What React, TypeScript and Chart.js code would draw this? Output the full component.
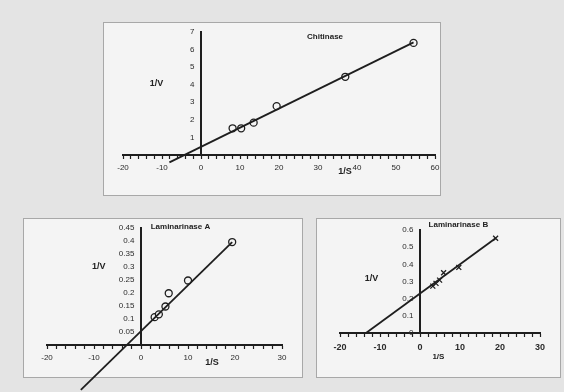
import React, { useEffect, useRef } from 'react';
import { Chart, registerables } from 'chart.js';
Chart.register(...registerables);

// ---- Chitinase ----
const chitS = [8.1, 10.3, 13.5, 19.4, 37, 54.5];
const chitV = [1.52, 1.52, 1.84, 2.78, 4.45, 6.38];
const chitFitS = [-8.1, 54.5];
const chitFitV = [-0.42, 6.41];
const chitXTicks = [-20, -10, 0, 10, 20, 30, 40, 50, 60];
const chitYTicks = [1, 2, 3, 4, 5, 6, 7];

// ---- Laminarinase A ----
const lamAS = [2.9, 3.8, 5.2, 5.9, 10, 19.4];
const lamAV = [0.107, 0.118, 0.148, 0.199, 0.248, 0.396];
const lamAFitS = [-12.8, 19.4];
const lamAFitV = [-0.173, 0.396];
const lamAXTicks = [-20, -10, 0, 10, 20, 30];
const lamAYTicks = [0.05, 0.1, 0.15, 0.2, 0.25, 0.3, 0.35, 0.4, 0.45];

// ---- Laminarinase B ----
const lamBS = [3.2, 4.0, 4.9, 5.9, 9.7, 18.9];
const lamBV = [0.273, 0.289, 0.308, 0.351, 0.382, 0.552];
const lamBFitS = [-13.5, 18.9];
const lamBFitV = [0, 0.552];
const lamBXTicks = [-20, -10, 0, 10, 20, 30];
const lamBYTicks = [0, 0.1, 0.2, 0.3, 0.4, 0.5, 0.6];

const FONT = "'Liberation Sans', Arial, sans-serif";
const INK = '#1e1e1e';

const textPlugin = {
  id: 'annot',
  afterDraw(chart: any, _a: any, opts: any) {
    const { ctx, scales } = chart;
    (opts.items || []).forEach((it: any) => {
      ctx.save();
      ctx.font = it.font;
      ctx.fillStyle = it.color || '#222';
      ctx.textAlign = 'center';
      ctx.textBaseline = 'middle';
      ctx.fillText(it.text, scales.x.getPixelForValue(it.x), scales.y.getPixelForValue(it.y));
      ctx.restore();
    });
  },
};

const has = (arr: number[], v: number) => arr.some((a) => Math.abs(a - v) < 1e-6);
const fmt = (v: number) => String(Number(v.toFixed(3)));

function makeConfig(p: any) {
  return {
    type: 'scatter',
    data: {
      datasets: [
        {
          data: p.fitS.map((s: number, i: number) => ({ x: s, y: p.fitV[i] })),
          showLine: true,
          borderColor: INK,
          borderWidth: 1.8,
          pointRadius: 0,
          clip: false,
        },
        {
          data: p.s.map((s: number, i: number) => ({ x: s, y: p.v[i] })),
          showLine: false,
          pointStyle: p.pointStyle,
          pointRadius: p.pointRadius,
          pointBorderWidth: 1.3,
          pointBorderColor: INK,
          pointBackgroundColor: p.pointStyle === 'circle' ? '#f4f4f4' : INK,
          clip: false,
        },
      ],
    },
    options: {
      responsive: false,
      devicePixelRatio: 1,
      animation: false,
      layout: { padding: p.padding },
      plugins: {
        legend: { display: false },
        tooltip: { enabled: false },
        annot: { items: p.texts },
      },
      scales: {
        x: {
          type: 'linear',
          position: { y: 0 },
          min: p.xMin,
          max: p.xMax,
          afterFit: (s: any) => { s.height = 0; },
          ticks: {
            stepSize: 2,
            autoSkip: false,
            maxRotation: 0,
            padding: p.xPad,
            color: '#2a2a2a',
            font: { family: FONT, size: p.xTickSize, weight: p.xTickWeight },
            callback: (v: any) => (has(p.xTicks, Number(v)) ? fmt(Number(v)) : ''),
          },
          grid: { display: true, drawOnChartArea: false, drawTicks: true, tickLength: 3, color: INK, tickWidth: 1.2 },
          border: { display: true, color: INK, width: 2 },
        },
        y: {
          type: 'linear',
          position: { x: 0 },
          min: p.yMin,
          max: p.yMax,
          afterFit: (s: any) => { s.width = 0; },
          ticks: {
            stepSize: p.yStep,
            autoSkip: false,
            color: '#2a2a2a',
            font: { family: FONT, size: 8 },
            // trailing spaces keep the labels clear of the axis line
            callback: (v: any) => (has(p.yTicks, Number(v)) ? fmt(Number(v)) + '   ' : ''),
          },
          grid: { display: false },
          border: { display: true, color: INK, width: 2 },
        },
      },
    },
    plugins: [textPlugin],
  } as any;
}

const configs = [
  makeConfig({
    s: chitS, v: chitV, fitS: chitFitS, fitV: chitFitV,
    pointStyle: 'circle', pointRadius: 3.5,
    xMin: -20, xMax: 60, xTicks: chitXTicks,
    yMin: 0, yMax: 7, yStep: 1, yTicks: chitYTicks,
    xTickSize: 8, xTickWeight: 'normal', xPad: 5,
    padding: { left: 123, right: 129, top: 32, bottom: 237 },
    texts: [
      { text: 'Chitinase', x: 31.8, y: 6.72, font: `bold 8px ${FONT}` },
      { text: '1/V', x: -11.4, y: 4.07, font: `bold 9px ${FONT}` },
      { text: '1/S', x: 36.9, y: -0.95, font: `bold 9px ${FONT}` },
    ],
  }),
  makeConfig({
    s: lamAS, v: lamAV, fitS: lamAFitS, fitV: lamAFitV,
    pointStyle: 'circle', pointRadius: 3.5,
    xMin: -20, xMax: 30, xTicks: lamAXTicks,
    yMin: 0, yMax: 0.45, yStep: 0.05, yTicks: lamAYTicks,
    xTickSize: 8, xTickWeight: 'normal', xPad: 5,
    padding: { left: 47, right: 282, top: 228, bottom: 47 },
    texts: [
      { text: 'Laminarinase A', x: 8.4, y: 0.456, font: `bold 8px ${FONT}` },
      { text: '1/V', x: -9.0, y: 0.302, font: `bold 9px ${FONT}` },
      { text: '1/S', x: 15.1, y: -0.068, font: `bold 9px ${FONT}` },
    ],
  }),
  makeConfig({
    s: lamBS, v: lamBV, fitS: lamBFitS, fitV: lamBFitV,
    pointStyle: 'crossRot', pointRadius: 3.5,
    xMin: -20, xMax: 30, xTicks: lamBXTicks,
    yMin: 0, yMax: 0.6, yStep: 0.1, yTicks: lamBYTicks,
    xTickSize: 9, xTickWeight: 'bold', xPad: 6,
    padding: { left: 340, right: 24, top: 230, bottom: 59 },
    texts: [
      { text: 'Laminarinase B', x: 9.6, y: 0.63, font: `bold 8px ${FONT}` },
      { text: '1/V', x: -12.1, y: 0.318, font: `bold 9px ${FONT}` },
      { text: '1/S', x: 4.6, y: -0.14, font: `bold 8px ${FONT}` },
    ],
  }),
];

function Plot({ config }: { config: any }) {
  const ref = useRef<HTMLCanvasElement | null>(null);
  useEffect(() => {
    const c = new Chart(ref.current as HTMLCanvasElement, config);
    return () => c.destroy();
  }, [config]);
  return <canvas ref={ref} width={564} height={392} style={{ position: 'absolute', left: 0, top: 0 }} />;
}

const boxStyle = (l: number, t: number, r: number, b: number): React.CSSProperties => ({
  position: 'absolute', left: l, top: t, width: r - l, height: b - t,
  background: '#f4f4f4', border: '1px solid #a8a8a8', boxSizing: 'border-box',
});

export default function App() {
  return (
    <div style={{ position: 'fixed', left: 0, top: 0, width: 564, height: 392, background: '#e4e4e4', overflow: 'hidden' }}>
      <div style={boxStyle(103, 22, 441, 196)} />
      <div style={boxStyle(23, 218, 303, 378)} />
      <div style={boxStyle(316, 218, 561, 378)} />
      {configs.map((c, i) => <Plot key={i} config={c} />)}
    </div>
  );
}
